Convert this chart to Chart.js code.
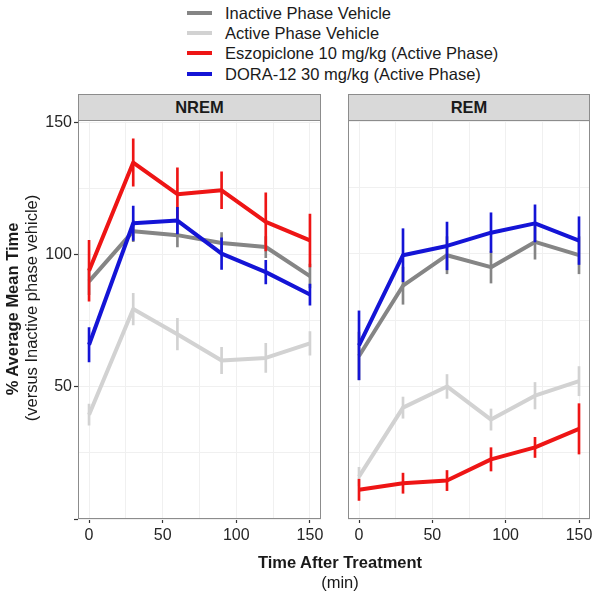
<!DOCTYPE html>
<html>
<head>
<meta charset="utf-8">
<script src="https://cdn.jsdelivr.net/npm/chart.js@4.4.0/dist/chart.umd.min.js"></script>
<style>
  body { margin: 0; background: #fff; font-family: "Liberation Sans", Arial, sans-serif; color: #1a1a1a; }
  #wrap { position: relative; width: 600px; height: 596px; overflow: hidden; }
  .abs { position: absolute; }
  .frame { position: absolute; box-sizing: border-box; border: 1px solid #8c8c8c; pointer-events: none; }
  .strip { position: absolute; box-sizing: border-box; border: 1px solid #8c8c8c; background: #d9d9d9;
           font-weight: bold; font-size: 16.5px; text-align: center; line-height: 25px; }
  .ytitle { position: absolute; width: 420px; height: 20px; line-height: 20px; text-align: center;
            font-size: 16.5px; transform: rotate(-90deg); white-space: nowrap; }
  .xtitle { position: absolute; left: 140px; width: 400px; text-align: center; font-size: 16.5px; white-space: nowrap; }
  .leg-row { position: absolute; left: 187px; height: 20px; }
  .leg-line { position: absolute; left: 0; top: 8px; width: 25px; height: 4px; }
  .leg-text { position: absolute; left: 38px; top: 0; line-height: 20px; font-size: 16.5px; white-space: nowrap; }
</style>
</head>
<body>
<div id="wrap">
  <div id="legend"></div>
  <canvas id="nrem" class="abs" width="330" height="450" style="left:0;top:110px"></canvas>
  <canvas id="rem" class="abs" width="270" height="450" style="left:330px;top:110px"></canvas>
  <div class="frame" style="left:78px;top:120px;width:243px;height:399px"></div>
  <div class="frame" style="left:348px;top:120px;width:242px;height:399px"></div>
  <div class="strip" id="strip0" style="left:78px;top:94px;width:243px;height:27px"></div>
  <div class="strip" id="strip1" style="left:348px;top:94px;width:242px;height:27px"></div>
  <div class="ytitle" style="left:-198px;top:299px;font-weight:bold">% Average Mean Time</div>
  <div class="ytitle" style="left:-179px;top:298px">(versus Inactive phase vehicle)</div>
  <div class="xtitle" style="top:553px;font-weight:bold">Time After Treatment</div>
  <div class="xtitle" style="top:573px">(min)</div>
</div>
<script>
const panels = ["NREM", "REM"];
const times = [0, 30, 60, 90, 120, 150];
const gridSteps = [0, 25, 50, 75, 100, 125, 150];
const xLabels = [0, 50, 100, 150];
const yLabels = [50, 100, 150];

const seriesLabels = [
  "Inactive Phase Vehicle",
  "Active Phase Vehicle",
  "Eszopiclone 10 mg/kg (Active Phase)",
  "DORA-12 30 mg/kg (Active Phase)"
];
const seriesColors = ["#858585", "#d2d2d2", "#ee1515", "#1414d6"];
const seriesOrder = [6, 8, 4, 2]; // blue on top, light grey at the bottom

// NREM means and error half-widths
const nremInactive = [90, 109, 107.5, 104.5, 103, 92];
const nremInactiveErr = [5, 4, 4.5, 4, 4, 4.5];
const nremActive = [39.5, 79.5, 70, 60, 61, 66.5];
const nremActiveErr = [4, 6, 6, 5, 5.5, 4.5];
const nremEszo = [94, 135, 123, 124.5, 112.5, 105.5];
const nremEszoErr = [11.5, 9, 10, 7, 11, 10];
const nremDora = [66, 112, 113, 100.5, 93.5, 85];
const nremDoraErr = [6.5, 6.5, 5, 6, 4.5, 4];

// REM means and error half-widths
const remInactive = [61.5, 88, 99.5, 95, 104.5, 99.5];
const remInactiveErr = [9, 7, 7, 6, 6.5, 7];
const remActive = [16, 42, 50, 37.5, 46.5, 52];
const remActiveErr = [3.5, 4, 4.5, 4, 5, 5.5];
const remEszo = [11, 13.5, 14.5, 22.5, 27, 34];
const remEszoErr = [4, 3.8, 3.8, 4.4, 3.8, 9.5];
const remDora = [65.5, 99.5, 103, 108, 111.5, 105];
const remDoraErr = [13, 10, 9, 7.5, 7, 9];

const FONT = "'Liberation Sans', Arial, sans-serif";

// legend
const legend = document.getElementById("legend");
seriesLabels.forEach((name, i) => {
  const row = document.createElement("div");
  row.className = "leg-row";
  row.style.top = (3 + i * 20.2) + "px";
  row.innerHTML = `<div class="leg-line" style="background:${seriesColors[i]}"></div><div class="leg-text">${name}</div>`;
  legend.appendChild(row);
});
panels.forEach((p, i) => { document.getElementById("strip" + i).textContent = p; });

function buildDatasets(means, errs) {
  const sets = [];
  means.forEach((m, s) => {
    sets.push({
      type: "line",
      label: seriesLabels[s],
      data: times.map((t, i) => ({ x: t, y: m[i] })),
      borderColor: seriesColors[s],
      borderWidth: 4,
      borderJoinStyle: "round",
      pointRadius: 0,
      tension: 0,
      fill: false,
      order: seriesOrder[s]
    });
    sets.push({
      type: "bar",
      label: seriesLabels[s] + " error",
      data: times.map((t, i) => ({ x: t, y: [m[i] - errs[s][i], m[i] + errs[s][i]] })),
      backgroundColor: seriesColors[s],
      borderWidth: 0,
      grouped: false,
      barThickness: 2,
      maxBarThickness: 2,
      order: seriesOrder[s]
    });
  });
  return sets;
}

const fixedTicks = (s) => { s.ticks = gridSteps.map((v) => ({ value: v })); };

function makeChart(id, means, errs, showY) {
  return new Chart(document.getElementById(id), {
    type: "line",
    data: { datasets: buildDatasets(means, errs) },
    options: {
      responsive: false,
      animation: false,
      events: [],
      layout: { padding: { top: 10, right: showY ? 9 : 10, left: showY ? 0 : 18, bottom: 0 } },
      plugins: { legend: { display: false }, tooltip: { enabled: false } },
      scales: {
        x: {
          type: "linear",
          min: -7.5,
          max: 157.5,
          offset: false,
          afterBuildTicks: fixedTicks,
          ticks: {
            autoSkip: false,
            maxRotation: 0,
            padding: 3,
            color: "#262626",
            font: { family: FONT, size: 16 },
            callback: (v) => (xLabels.includes(v) ? String(v) : "")
          },
          grid: {
            offset: false,
            color: "#f0f0f0",
            tickLength: 4,
            tickWidth: 1.2,
            tickColor: (c) => (c.tick && xLabels.includes(c.tick.value) ? "#333" : "rgba(0,0,0,0)")
          },
          border: { display: false },
          afterFit: (s) => { s.height = 41; }
        },
        y: {
          type: "linear",
          min: 0,
          max: 150.5,
          afterBuildTicks: fixedTicks,
          ticks: {
            display: showY,
            autoSkip: false,
            padding: 2,
            color: "#262626",
            font: { family: FONT, size: 16 },
            callback: (v) => (yLabels.includes(v) ? String(v) : "")
          },
          grid: {
            offset: false,
            color: "#f0f0f0",
            drawTicks: showY,
            tickLength: 4,
            tickWidth: 1.2,
            tickColor: (c) => (c.tick && c.tick.value % 50 === 0 ? "#333" : "rgba(0,0,0,0)")
          },
          border: { display: false },
          afterFit: (s) => { s.width = showY ? 78 : 0; }
        }
      }
    }
  });
}

makeChart("nrem",
  [nremInactive, nremActive, nremEszo, nremDora],
  [nremInactiveErr, nremActiveErr, nremEszoErr, nremDoraErr], true);
makeChart("rem",
  [remInactive, remActive, remEszo, remDora],
  [remInactiveErr, remActiveErr, remEszoErr, remDoraErr], false);
</script>
</body>
</html>
